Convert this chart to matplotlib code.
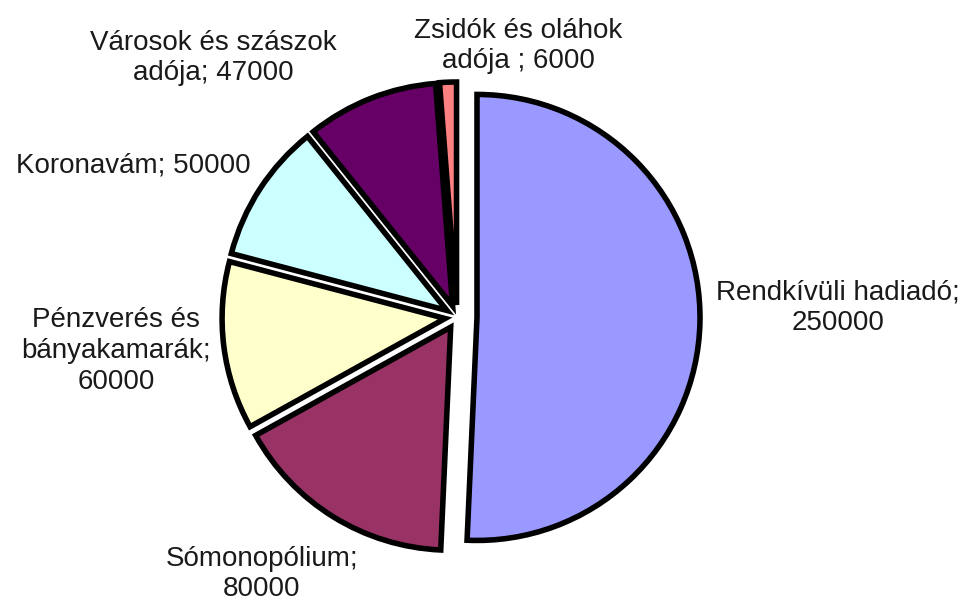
import matplotlib.pyplot as plt

labels = ['Rendkívüli hadiadó;\n250000', 'Sómonopólium;\n80000',
          'Pénzverés és\nbányakamarák;\n60000', 'Koronavám; 50000',
          'Városok és szászok\nadója; 47000', 'Zsidók és oláhok\nadója ; 6000']
values = [250000, 80000, 60000, 50000, 47000, 6000]
colors = ['#9999FF', '#993366', '#FFFFCC', '#CCFFFF', '#660066', '#FF8080']

# label centres in pixels (x, y from top)
label_pos = [(838, 308), (262, 574), (116, 351), (133, 165), (213, 58), (518, 46)]

W, H = 973, 606
fig = plt.figure(figsize=(W / 100, H / 100), dpi=100)
ax = fig.add_axes([0, 0, 1, 1])

R = 223
# explode is in data units (pixels here) because radius is not 1
wedges, _ = ax.pie(values, colors=colors, startangle=90, counterclock=False,
                   center=(457, H - 317), radius=R,
                   explode=[20, 12, 12, 12, 12, 12],
                   wedgeprops=dict(edgecolor='black', linewidth=4.0, joinstyle='miter'))

for txt, (x, y) in zip(labels, label_pos):
    ax.text(x, H - y, txt, ha='center', va='center', fontsize=20,
            family='Liberation Sans', color='#1a1a1a', linespacing=1.25)

ax.set_xlim(0, W)
ax.set_ylim(0, H)
ax.set_aspect('equal')
ax.axis('off')

fig.savefig('out.png', dpi=100)
